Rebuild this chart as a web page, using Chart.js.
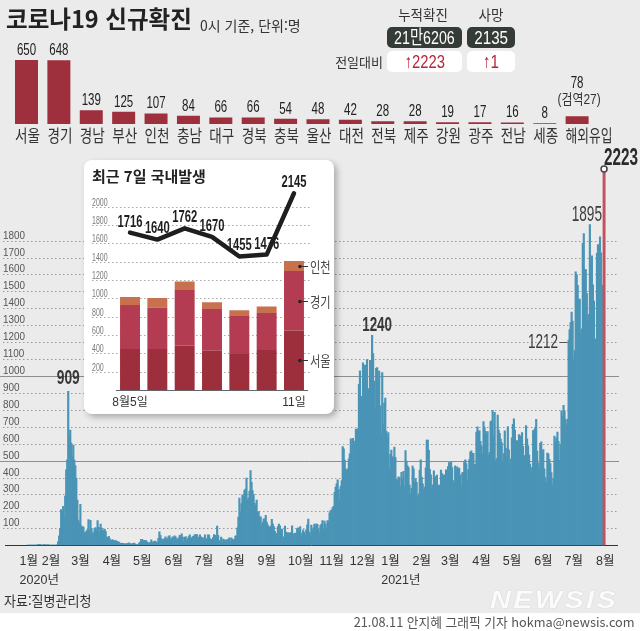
<!DOCTYPE html>
<html lang="ko">
<head>
<meta charset="utf-8">
<title>코로나19 신규확진</title>
<script src="https://cdn.jsdelivr.net/npm/chart.js"></script>
<style>
html,body{margin:0;padding:0;}
body{width:640px;height:631px;position:relative;overflow:hidden;background:#ebebeb;font-family:'Noto Sans CJK KR',sans-serif;color:#333;}
canvas{position:absolute;left:0;top:0;}
.t{position:absolute;white-space:nowrap;line-height:1;}
.box{position:absolute;display:flex;align-items:center;justify-content:center;border-radius:5px;overflow:hidden;}
.box span{display:inline-block;white-space:nowrap;line-height:1;}
.dark{background:#353b37;color:#fff;}
.white{background:#fff;color:#b8263a;}
.num{font-family:'Liberation Sans','Noto Sans CJK KR',sans-serif;}
#inset{position:absolute;left:84px;top:160px;width:250px;height:254px;background:#fff;border-radius:8px;box-shadow:3px 3px 6px rgba(0,0,0,0.28);z-index:3;}
#strip{position:absolute;left:0;top:613px;width:640px;height:18px;background:#fff;}
</style>
</head>
<body>
<div id="strip"></div>
<canvas id="mainChart" width="640" height="612" style="z-index:1"></canvas>
<canvas id="regionChart" width="640" height="150" style="z-index:2"></canvas>

<div id="inset">
  <canvas id="insetChart" width="250" height="254"></canvas>
  <div class="t" style="left:8px;top:7.5px;font-size:15px;font-weight:700;color:#222;">최근 7일 국내발생</div>
</div>

<div class="t" style="left:6px;top:6.4px;font-size:24px;font-weight:700;color:#222;transform:scaleX(0.98);transform-origin:0 0;z-index:4;">코로나19 신규확진</div>
<div class="t" style="left:200px;top:17.6px;font-size:14px;color:#333;z-index:4;">0시 기준, 단위:명</div>

<div class="t" style="left:383px;width:80px;text-align:center;top:8.1px;font-size:13.5px;color:#333;z-index:4;">누적확진</div>
<div class="t" style="left:461px;width:60px;text-align:center;top:8.1px;font-size:13.5px;color:#333;z-index:4;">사망</div>
<div class="box dark" style="left:387px;top:27px;width:75px;height:21px;z-index:4;"><span class="num" style="font-size:19px;transform:scaleX(0.75);">21만6206</span></div>
<div class="box dark" style="left:467px;top:27px;width:48px;height:21px;z-index:4;"><span class="num" style="font-size:19px;transform:scaleX(0.8);">2135</span></div>
<div class="t" style="left:300px;width:83px;text-align:right;top:54.6px;font-size:13px;color:#333;z-index:4;">전일대비</div>
<div class="box white" style="left:387px;top:51px;width:75px;height:21px;z-index:4;"><span class="num" style="font-size:19px;transform:scaleX(0.78);"><b>↑</b>2223</span></div>
<div class="box white" style="left:467px;top:51px;width:48px;height:21px;z-index:4;"><span class="num" style="font-size:19px;transform:scaleX(0.8);"><b>↑</b>1</span></div>

<div class="t" style="left:4px;top:593px;font-size:14px;color:#333;transform:scaleX(0.93);transform-origin:0 0;z-index:4;">자료:질병관리청</div>
<div class="t" style="left:490px;top:588px;font-family:'Liberation Sans',sans-serif;font-size:24px;font-weight:700;font-style:italic;letter-spacing:2px;color:#fbfbfb;text-shadow:0 0 1px #b8b8b8;transform:scaleX(1.2);transform-origin:0 0;z-index:4;">NEWSIS</div>
<div class="t" style="right:5px;top:614.6px;font-size:13px;color:#555;transform:scaleX(0.98);transform-origin:100% 0;z-index:4;">21.08.11 안지혜 그래픽 기자 hokma@newsis.com</div>

<script>
// ================= DATA =================
// 지역별 신규확진 (2021.08.11 0시 기준)
const regions = ['서울','경기','경남','부산','인천','충남','대구','경북','충북','울산','대전','전북','제주','강원','광주','전남','세종','해외유입'];
const regionCases = [650,648,139,125,107,84,66,66,54,48,42,28,28,19,17,16,8,78];
const quarantineCases = 27; // 해외유입 중 검역 단계

// 최근 7일 국내발생
const recentDays = ['8월5일','6일','7일','8일','9일','10일','11일'];
const seoulCases    = [447,447,484,429,393,436,650];
const gyeonggiCases = [480,451,607,455,414,404,648];
const incheonCases  = [88,106,91,72,62,69,107];
const domesticTotal = [1716,1640,1762,1670,1455,1476,2145];

// 일별 신규확진 (2020.01.20 ~ 2021.08.11), 월별 배열
const d2020_01 = [1,0,0,0,1,0,1,1,0,0,3,5];
const d2020_02 = [1,3,0,1,3,4,1,0,3,0,1,0,0,0,0,1,1,2,20,55,100,210,200,230,160,290,445,505,909];
const d2020_03 = [640,681,603,523,592,503,470,397,267,149,131,242,114,110,107,76,74,84,93,152,87,147,98,64,76,100,104,91,146,105,78];
const d2020_04 = [125,101,89,86,94,81,47,47,53,39,27,30,32,25,27,27,22,22,18,8,13,9,11,8,6,10,10,10,14,9];
const d2020_05 = [4,9,6,13,8,3,2,4,12,18,34,35,27,26,29,27,19,13,15,13,32,12,20,23,25,16,19,40,79,58,39];
const d2020_06 = [27,35,38,49,39,39,51,57,38,38,50,45,56,49,37,34,43,59,49,67,48,17,46,51,28,39,51,62,42,43];
const d2020_07 = [51,54,63,61,63,48,44,62,50,45,35,44,62,33,39,61,60,39,34,26,45,63,59,41,113,58,25,28,48,18,36];
const d2020_08 = [31,30,23,34,33,43,20,43,36,28,34,54,56,103,166,279,197,246,297,288,324,332,397,266,280,320,441,371,323,299,248];
const d2020_09 = [235,267,195,198,168,167,119,136,156,155,176,136,121,109,106,113,153,126,110,82,70,61,110,125,114,61,95,50,38,113];
const d2020_10 = [77,63,75,64,73,75,114,69,54,72,58,98,102,84,110,47,73,91,76,58,91,121,155,77,61,119,88,103,125,114,127];
const d2020_11 = [124,97,75,118,125,145,89,143,126,100,146,143,191,205,208,223,230,313,343,363,386,330,271,349,382,583,569,503,450,438];
const d2020_12 = [451,511,540,629,583,631,615,594,686,682,689,950,1030,718,880,1078,1014,1064,1053,1097,926,869,1092,985,1240,1132,970,807,1045,1050,967];
const d2021_01 = [1029,824,657,1020,715,840,869,674,641,665,451,537,562,524,513,580,520,389,386,404,400,346,431,392,437,349,559,497,469,458,355];
const d2021_02 = [305,336,467,451,370,393,372,289,303,444,504,403,362,326,343,457,621,621,561,448,416,332,357,440,396,406,415,355];
const d2021_03 = [355,344,444,424,398,416,346,446,346,465,488,470,490,459,382,363,469,445,463,452,456,415,346,428,430,494,505,482,382,447,506];
const d2021_04 = [551,557,543,543,473,478,668,700,671,677,614,587,542,731,698,673,658,672,532,549,731,735,797,644,785,500,512,769,680,661];
const d2021_05 = [627,606,488,541,676,574,525,701,564,463,511,635,715,747,681,610,619,528,654,646,561,666,585,530,516,707,629,587,533,480,430];
const d2021_06 = [459,677,681,695,744,556,485,454,602,611,556,565,452,399,373,545,540,507,482,429,357,395,645,610,634,668,614,501,595,794];
const d2021_07 = [762,826,794,743,711,746,1212,1275,1316,1378,1324,1100,1150,1615,1600,1536,1452,1454,1252,1278,1784,1842,1630,1629,1487,1318,1365,1895,1674,1710,1539];
const d2021_08 = [1442,1219,1202,1725,1776,1704,1823,1728,1492,1537,2223];

const monthLabels = ['1월','2월','3월','4월','5월','6월','7월','8월','9월','10월','11월','12월','1월','2월','3월','4월','5월','6월','7월','8월'];
const yearLabels = {0:'2020년', 12:'2021년'};
const yTicks = [100,200,300,400,500,600,700,800,900,1000,1100,1200,1300,1400,1500,1600,1700,1800];
const solidGridValues = [500,1000];
const annotatedValues = [909,1240,1212,1895,2223];
const insetTicks = [200,400,600,800,1000,1200,1400,1600,1800,2000];

// ================= BUILD =================
const monthSeries = [d2020_01,d2020_02,d2020_03,d2020_04,d2020_05,d2020_06,d2020_07,d2020_08,d2020_09,d2020_10,d2020_11,d2020_12,
                     d2021_01,d2021_02,d2021_03,d2021_04,d2021_05,d2021_06,d2021_07,d2021_08];
const daily = [].concat(...monthSeries);
const lastIdx = daily.length - 1;
const tickDays = [];
{ let acc = 0; monthSeries.forEach((m,k)=>{ tickDays.push(k===0 ? -10 : acc); acc += m.length; }); }

const NUM = "'Liberation Sans','Noto Sans CJK KR',sans-serif";
const KR = "'Noto Sans CJK KR',sans-serif";
Chart.defaults.font.family = KR;

function drawText(ctx, text, x, y, o){
  ctx.save();
  ctx.font = `${o.weight||'normal'} ${o.size}px ${o.family||NUM}`;
  ctx.fillStyle = o.color || '#333';
  ctx.textAlign = o.align || 'center';
  ctx.textBaseline = o.baseline || 'middle';
  let sx = o.sx || 1;
  if (o.maxW){ const w = ctx.measureText(text).width; if (w*sx > o.maxW) sx = o.maxW / w; }
  ctx.translate(x, y);
  ctx.scale(sx, 1);
  ctx.fillText(text, 0, 0);
  ctx.restore();
}

// ---------- main daily chart ----------
const annStyle = {
  909:  {dx:0,   dy:-13, size:19.5, weight:'bold',   sx:0.71, color:'#383838', align:'center'},
  1240: {dx:5,   dy:-10, size:21,   weight:'bold',   sx:0.64, color:'#383838', align:'center'},
  1212: {dx:-10.5, dy:2, size:20.5, weight:'normal', sx:0.66, color:'#3c3c3c', align:'right', dash:true},
  1895: {dx:-3,  dy:-10, size:22,   weight:'normal', sx:0.62, color:'#3c3c3c', align:'center'},
  2223: {dx:0,   dy:-11, size:23.5, weight:'bold',   sx:0.65, color:'#2a2a2a', align:'left'}
};
const mainDecor = {
  id:'mainDecor',
  beforeDatasetsDraw(chart){
    const {ctx, scales:{y}} = chart;
    ctx.save();
    ctx.lineWidth = 1;
    yTicks.forEach(v=>{
      const py = Math.round(y.getPixelForValue(v)) + 0.5;
      const solid = solidGridValues.includes(v);
      ctx.strokeStyle = solid ? '#8e8e8e' : '#9a9a9a';
      ctx.setLineDash(solid ? [] : [1.5,2.5]);
      ctx.beginPath();
      ctx.moveTo(solid ? 0 : 3, py);
      ctx.lineTo(solid ? 619 : 617, py);
      ctx.stroke();
      drawText(ctx, String(v), 3, py - 2.5, {size:11, sx:0.9, align:'left', baseline:'alphabetic', color:'#555'});
    });
    ctx.restore();
  },
  afterDatasetsDraw(chart){
    const {ctx, scales:{x,y}} = chart;
    annotatedValues.forEach(v=>{
      const i = daily.indexOf(v);
      if (i < 0) return;
      const s = annStyle[v];
      const px = x.getPixelForValue(i), py = y.getPixelForValue(v);
      drawText(ctx, String(v), px + s.dx, py + s.dy, s);
      if (s.dash){
        ctx.save(); ctx.strokeStyle = '#555'; ctx.lineWidth = 1;
        const ly = Math.round(py + 1.5) + 0.5;
        ctx.beginPath(); ctx.moveTo(px - 9, ly); ctx.lineTo(px - 1.5, ly); ctx.stroke();
        ctx.restore();
      }
    });
  }
};

new Chart(document.getElementById('mainChart'), {
  type:'bar',
  data:{
    datasets:[
      { type:'line', data:[{x:lastIdx, y:daily[lastIdx]}], showLine:false, pointRadius:3, pointBackgroundColor:'#fff',
        pointBorderColor:'#444', pointBorderWidth:1.5, order:0 },
      { data:[{x:lastIdx, y:daily[lastIdx]}], backgroundColor:'#c4525e', barThickness:2.2, grouped:false, borderWidth:0, order:1 },
      { data: daily.map((v,i)=>({x:i, y:v})), backgroundColor:'#4a94b6', barThickness:1.5, grouped:false, borderWidth:0, order:2 }
    ]
  },
  options:{
    responsive:false, animation:false, events:[],
    layout:{padding:{left:3, right:23, top:139.1, bottom:6.8}},
    plugins:{legend:{display:false}, tooltip:{enabled:false}},
    scales:{
      x:{ type:'linear', min:-21.93, max:581.78, offset:false,
          grid:{display:false, drawTicks:false},
          border:{display:true, color:'#333', width:1},
          afterBuildTicks:(s)=>{ s.ticks = tickDays.map(v=>({value:v})); },
          afterFit:(s)=>{ s.height = 60; },
          ticks:{ autoSkip:false, maxRotation:0, minRotation:0, align:'start', labelOffset:2, padding:7.7,
                  color:'#333', font:{family:NUM, size:12.5, lineHeight:1.45},
                  callback:(v,i)=> yearLabels[i] ? [monthLabels[i], yearLabels[i]] : monthLabels[i] } },
      y:{ type:'linear', display:false, min:0, max:2400 }
    }
  },
  plugins:[mainDecor]
});

// ---------- regional chart ----------
const regionDecor = {
  id:'regionDecor',
  afterDatasetsDraw(chart){
    const ctx = chart.ctx;
    const meta = chart.getDatasetMeta(0);
    const labelY = chart.chartArea.bottom + 11.7;
    meta.data.forEach((el,i)=>{
      const v = regionCases[i];
      if (i === regions.length - 1){
        drawText(ctx, String(v), el.x, el.y - 33, {size:16, sx:0.72, color:'#222'});
        drawText(ctx, `(검역${quarantineCases})`, el.x + 2, el.y - 16, {size:14, sx:0.85, maxW:47, color:'#333'});
      } else {
        drawText(ctx, String(v), el.x, el.y - 9.5, {size:16, sx:0.72, color:'#222'});
      }
      drawText(ctx, regions[i], el.x - el.width/2, labelY, {family:KR, size:17, sx:0.8, maxW:47, align:'left', color:'#333'});
    });
  }
};
new Chart(document.getElementById('regionChart'), {
  type:'bar',
  data:{ labels:regions, datasets:[{ data:regionCases, backgroundColor:'#9e2f3d', barPercentage:0.71, categoryPercentage:1, borderWidth:0 }] },
  options:{
    responsive:false, animation:false, events:[],
    layout:{padding:{left:10.3, right:46.7, top:55.05, bottom:26}},
    plugins:{legend:{display:false}, tooltip:{enabled:false}},
    scales:{ x:{display:false}, y:{display:false, min:0, max:700} }
  },
  plugins:[regionDecor]
});

// ---------- inset chart ----------
const insetDecor = {
  id:'insetDecor',
  beforeDatasetsDraw(chart){
    const {ctx, scales:{y}} = chart;
    ctx.save();
    ctx.strokeStyle = '#a8a8a8'; ctx.lineWidth = 1; ctx.setLineDash([1.5,2.5]);
    insetTicks.forEach(v=>{
      const py = Math.round(y.getPixelForValue(v)) + 0.5;
      ctx.beginPath(); ctx.moveTo(8, py); ctx.lineTo(226, py); ctx.stroke();
      drawText(ctx, String(v), 8, py - 2, {size:10, sx:0.7, align:'left', baseline:'alphabetic', color:'#7a7a7a'});
    });
    ctx.restore();
  },
  afterDatasetsDraw(chart){
    const ctx = chart.ctx;
    const lineMeta = chart.getDatasetMeta(3);
    lineMeta.data.forEach((pt,i)=>{
      drawText(ctx, String(domesticTotal[i]), pt.x, pt.y - 10.5, {size:16, weight:'bold', sx:0.7, color:'#1e1e1e'});
    });
    [0,1,2].forEach(d=>{
      const meta = chart.getDatasetMeta(d);
      const el = meta.data[meta.data.length - 1];
      const my = Math.round((el.y + el.base) / 2) + 0.5;
      const dx = el.x + 6;
      ctx.save();
      ctx.fillStyle = '#222'; ctx.strokeStyle = '#333'; ctx.lineWidth = 1;
      ctx.beginPath(); ctx.arc(dx, my, 1.8, 0, Math.PI*2); ctx.fill();
      ctx.beginPath(); ctx.moveTo(dx, my); ctx.lineTo(dx + 8, my); ctx.stroke();
      ctx.restore();
      drawText(ctx, chart.data.datasets[d].label, dx + 10, my, {family:KR, size:14, sx:0.8, align:'left', color:'#444'});
    });
  }
};
new Chart(document.getElementById('insetChart'), {
  type:'bar',
  data:{
    labels:recentDays,
    datasets:[
      { label:'서울', data:seoulCases,    backgroundColor:'#9c2f3b', stack:'metro', barPercentage:0.73, categoryPercentage:1, order:1 },
      { label:'경기', data:gyeonggiCases, backgroundColor:'#b33c52', stack:'metro', barPercentage:0.73, categoryPercentage:1, order:1 },
      { label:'인천', data:incheonCases,  backgroundColor:'#c8714f', stack:'metro', barPercentage:0.73, categoryPercentage:1, order:1 },
      { type:'line', label:'국내발생', data:domesticTotal, borderColor:'#1e1e1e', borderWidth:4.5, pointRadius:0, tension:0,
        stack:'total', order:0, borderJoinStyle:'round', borderCapStyle:'round' }
    ]
  },
  options:{
    responsive:false, animation:false, events:[],
    layout:{padding:{left:32.35, right:26.35, top:28.2, bottom:4}},
    plugins:{legend:{display:false}, tooltip:{enabled:false}},
    scales:{
      x:{ stacked:true, grid:{display:false, drawTicks:false}, border:{display:true, color:'#666', width:1},
          afterFit:(s)=>{ s.height = 20; },
          ticks:{ autoSkip:false, maxRotation:0, padding:5.8, color:'#333', font:{family:NUM, size:12},
                  callback:(v,i)=> (i===0 || i===recentDays.length-1) ? recentDays[i] : '' } },
      y:{ stacked:true, display:false, min:0, max:2200 }
    }
  },
  plugins:[insetDecor]
});
</script>
</body>
</html>
